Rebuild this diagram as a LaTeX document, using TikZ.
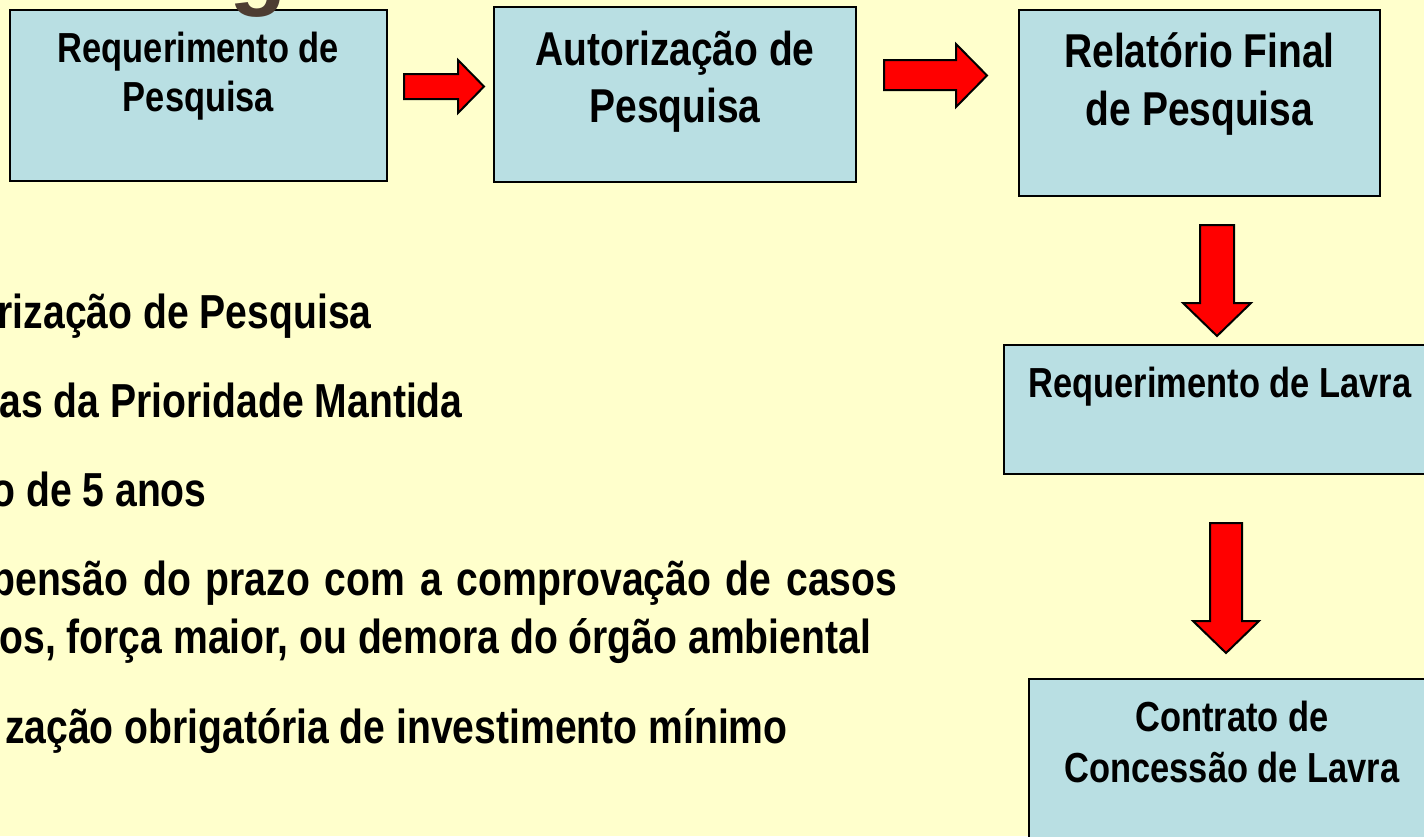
\documentclass[tikz,border=0pt]{standalone}
\usepackage{fontspec}
\newfontfamily\nb{Liberation Sans}[FakeStretch=0.82]
\newfontfamily\titlefont{Liberation Sans}
\usetikzlibrary{fit}
\definecolor{bgyellow}{RGB}{255,255,204}
\definecolor{boxblue}{RGB}{185,223,227}
\definecolor{arrred}{RGB}{255,0,0}
\definecolor{titlebrown}{RGB}{77,61,50}
\begin{document}
\begin{tikzpicture}[x=0.5pt,y=-0.5pt,
  box/.style={draw=black,line width=1.1pt,fill=boxblue,inner sep=0pt},
  blockarrow/.style={draw=black,line width=1pt,fill=arrred,line join=miter},
  smalltxt/.style={font=\nb\bfseries\fontsize{21pt}{25pt}\selectfont,anchor=base,inner sep=0pt},
  bigtxt/.style={font=\nb\bfseries\fontsize{23.75pt}{28pt}\selectfont,anchor=base,inner sep=0pt},
  bodytxt/.style={font=\nb\bfseries\fontsize{23.85pt}{28pt}\selectfont,inner sep=0pt}]
\useasboundingbox (0,0) rectangle (1424,836);
\fill[bgyellow] (0,0) rectangle (1424,836);
% boxes
\node[box,fit={(10,10) (387,181)}] (b1) {};
\node[box,fit={(494,7) (856,182)}] (b2) {};
\node[box,fit={(1019,10) (1380,196)}] (b3) {};
\node[box,fit={(1004,345) (1440,474)}] (b4) {};
\node[box,fit={(1029,679) (1440,860)}] (b5) {};
% partial title letter
\node[font=\titlefont\bfseries\fontsize{47pt}{50pt}\selectfont,text=titlebrown,anchor=base,inner sep=0pt] (tg) at (258,-3) {g};
% box labels
\node[smalltxt] (t1a) at (198.5,62) {Requerimento de};
\node[smalltxt] (t1b) at (198.5,111) {Pesquisa};
\node[bigtxt] (t2a) at (675,65) {Autorização de};
\node[bigtxt] (t2b) at (675,122) {Pesquisa};
\node[bigtxt] (t3a) at (1199.5,67) {Relatório Final};
\node[bigtxt] (t3b) at (1199.5,125) {de Pesquisa};
\node[smalltxt] (t4a) at (1220,397) {Requerimento de Lavra};
\node[smalltxt] (t5a) at (1232,731) {Contrato de};
\node[smalltxt] (t5b) at (1232,782) {Concessão de Lavra};
% block arrows
\draw[blockarrow] (404,74) -- (458,74) -- (458,60) -- (484,86.5) -- (458,113) -- (458,99) -- (404,99) -- cycle;
\draw[blockarrow] (884,60) -- (956,60) -- (956,44) -- (987,75.5) -- (956,107) -- (956,90) -- (884,90) -- cycle;
\draw[blockarrow] (1200,225) -- (1234,225) -- (1234,303) -- (1251,303) -- (1217,336) -- (1183,303) -- (1200,303) -- cycle;
\draw[blockarrow] (1210,523) -- (1242,523) -- (1242,621) -- (1259,621) -- (1226,653) -- (1193,621) -- (1210,621) -- cycle;
% body text
\node[bodytxt,anchor=base east] (l1) at (372,328) {rização de Pesquisa};
\node[bodytxt,anchor=base east] (l2) at (463,417) {as da Prioridade Mantida};
\node[bodytxt,anchor=base east] (l3) at (207,506) {o de 5 anos};
\node[bodytxt,anchor=base west] (l4) at (-9,595) {\makebox[453pt][s]{pensão do prazo com a comprovação de casos}};
\node[bodytxt,anchor=base west] (l5) at (-1,653) {os, força maior, ou demora do órgão ambiental};
\node[bodytxt,anchor=base east] (l6) at (788,743) {zação obrigatória de investimento mínimo};
\end{tikzpicture}
\end{document}
